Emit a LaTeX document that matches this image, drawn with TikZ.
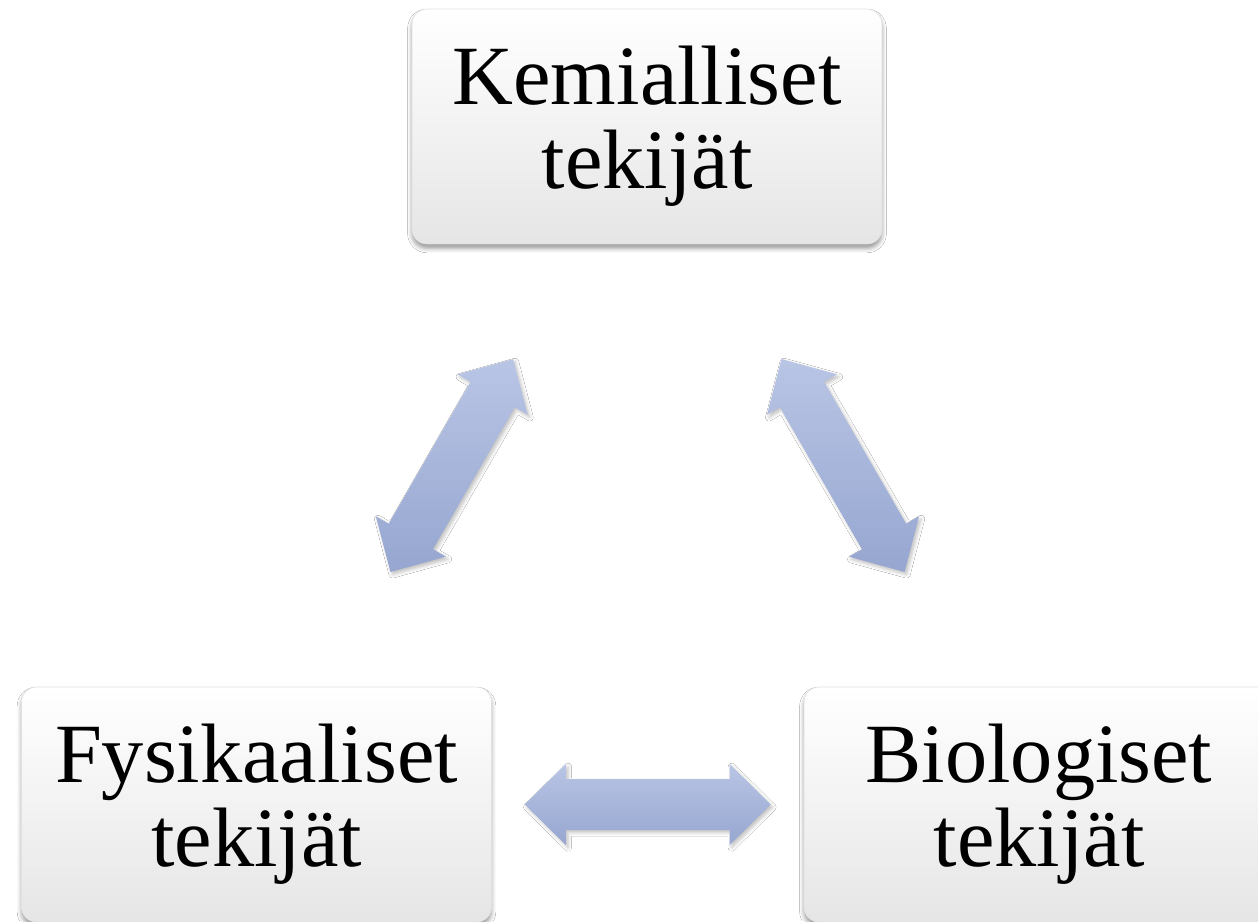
\documentclass[tikz,border=0pt]{standalone}
\usepackage{fontspec}
\setmainfont{Liberation Serif}
\usetikzlibrary{calc, shadows.blur}

% kaksoisnuoli kahden laatikon valissa
\newcommand{\kaksoisnuoli}[2]{%
  \coordinate (p) at ($(#1)!0.343!(#2)$);
  \coordinate (q) at ($(#1)!0.657!(#2)$);
  \path[nuoli] (p)
    -- ($(p)!0.82cm!(q)!0.81cm!90:(q)$)
    -- ($(p)!0.82cm!(q)!0.51cm!90:(q)$)
    -- ($(q)!0.82cm!(p)!0.51cm!-90:(p)$)
    -- ($(q)!0.82cm!(p)!0.81cm!-90:(p)$)
    -- (q)
    -- ($(q)!0.82cm!(p)!0.81cm!90:(p)$)
    -- ($(q)!0.82cm!(p)!0.51cm!90:(p)$)
    -- ($(p)!0.82cm!(q)!0.51cm!-90:(q)$)
    -- ($(p)!0.82cm!(q)!0.81cm!-90:(q)$)
    -- cycle;
}

\begin{document}
\begin{tikzpicture}[x=0.02cm, y=-0.02cm,
  laatikko/.style={rectangle, rounded corners=0.3cm, draw=black!12,
    minimum width=9.4cm, minimum height=4.7cm, inner sep=0pt,
    top color=white, middle color=black!2, bottom color=black!10,
    align=center, font=\fontsize{48}{48}\selectfont,
    blur shadow={shadow xshift=0pt, shadow yshift=-2.5pt,
      shadow blur radius=2.5pt, shadow opacity=40}},
  nuoli/.style={top color={rgb,255:red,185;green,197;blue,229},
    bottom color={rgb,255:red,150;green,166;blue,208},
    blur shadow={shadow xshift=1.2pt, shadow yshift=-1.5pt,
      shadow blur radius=2pt, shadow opacity=25}}]
  \path[use as bounding box, fill=white] (0,0) rectangle (1258,921);
  \clip (0,0) rectangle (1258,921);

  \node[laatikko] (kemialliset) at (647,126.5) {Kemialliset\\tekijät};
  \node[laatikko] (fysikaaliset) at (256.5,804.5) {Fysikaaliset\\tekijät};
  \node[laatikko] (biologiset) at (1039,804.5) {Biologiset\\tekijät};

  \kaksoisnuoli{kemialliset}{fysikaaliset}
  \kaksoisnuoli{kemialliset}{biologiset}
  \kaksoisnuoli{fysikaaliset}{biologiset}
\end{tikzpicture}
\end{document}
